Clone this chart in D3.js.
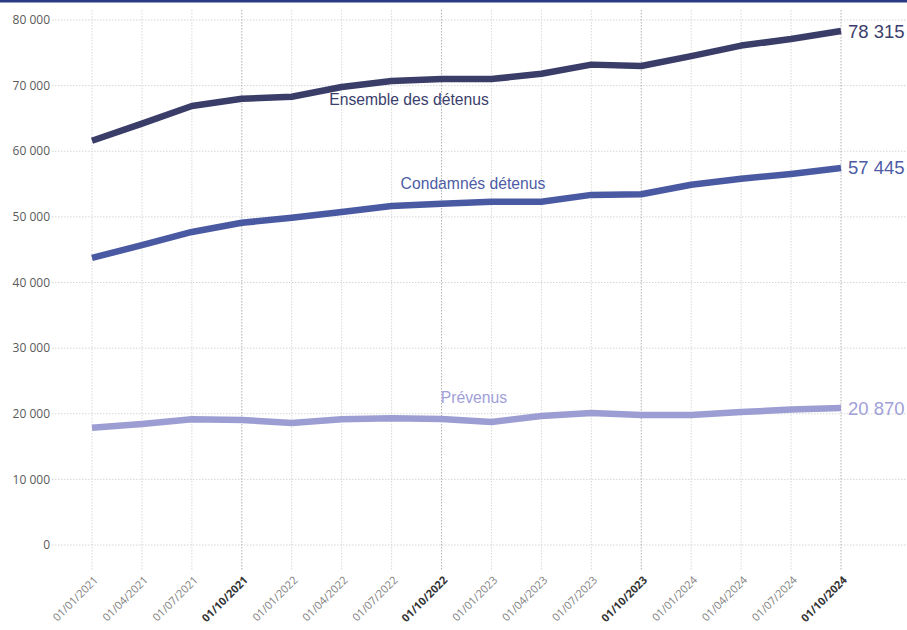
<!DOCTYPE html>
<html><head><meta charset="utf-8">
<script src="https://cdn.jsdelivr.net/npm/d3@7"></script>
<style>body{margin:0;background:#fff;}svg{display:block;}</style>
</head><body>
<svg id="c" width="907" height="630"></svg>
<script>
const dates = ["01/01/2021","01/04/2021","01/07/2021","01/10/2021","01/01/2022","01/04/2022","01/07/2022","01/10/2022","01/01/2023","01/04/2023","01/07/2023","01/10/2023","01/01/2024","01/04/2024","01/07/2024","01/10/2024"];
const ensemble = [61600,64200,66900,68000,68300,69800,70700,71000,71000,71800,73200,73000,74500,76100,77100,78315];
const condamnes = [43750,45700,47700,49100,49850,50750,51650,52000,52300,52300,53350,53450,54900,55800,56550,57445];
const prevenus = [17850,18450,19150,19050,18600,19150,19300,19200,18750,19650,20100,19800,19800,20250,20650,20870];
const yTicks = [0,10000,20000,30000,40000,50000,60000,70000,80000];
const seriesNames = ["Ensemble des détenus","Condamnés détenus","Prévenus"];

const svg = d3.select("#c");
const x = d3.scalePoint().domain(dates).range([92,841]);
const y = d3.scaleLinear().domain([0,80000]).range([545,20]);
const fmt = v => d3.format(",")(v).replace(/,/g," ");

svg.append("rect").attr("x",0).attr("y",0).attr("width",907).attr("height",2.5).attr("fill","#2b3a85");

// horizontal grid
svg.append("g").selectAll("line").data(yTicks).join("line")
  .attr("x1",52).attr("x2",907).attr("y1",d=>y(d)).attr("y2",d=>y(d))
  .attr("stroke","#d6d6d6").attr("stroke-width",1).attr("stroke-dasharray","1.5,1.5");
// vertical grid
svg.append("g").selectAll("line").data(dates).join("line")
  .attr("x1",d=>x(d)).attr("x2",d=>x(d)).attr("y1",10).attr("y2",570)
  .attr("stroke",d=>d.startsWith("01/10")?"#b0b0b0":"#d8d8d8").attr("stroke-width",1).attr("stroke-dasharray","1.5,1.5");

// y labels
svg.append("g").selectAll("text").data(yTicks).join("text")
  .attr("x",50).attr("y",d=>y(d)).attr("dy","0.35em").attr("text-anchor","end")
  .attr("font-family","Open Sans, sans-serif").attr("font-size",12).attr("fill","#5a5a5a")
  .text(d=>fmt(d));

// x labels
svg.append("g").selectAll("text").data(dates).join("text")
  .attr("transform",d=>`translate(${x(d)+4},${578}) rotate(-45)`)
  .attr("text-anchor","end").attr("dy","0.35em")
  .attr("font-family","Open Sans, sans-serif").attr("font-size",11)
  .attr("font-weight",d=>d.startsWith("01/10")?"bold":"normal")
  .attr("fill",d=>d.startsWith("01/10")?"#333":"#808080")
  .text(d=>d);

const series = [
  {name:seriesNames[0], vals:ensemble, color:"#3a3d68", text:"#3b3e6c"},
  {name:seriesNames[1], vals:condamnes, color:"#4a5aa2", text:"#4d5ca5"},
  {name:seriesNames[2], vals:prevenus, color:"#9c9dd2", text:"#9fa0d8"}
];
const line = d3.line().x((d,i)=>x(dates[i])).y(d=>y(d));
series.forEach(s=>{
  svg.append("path").attr("d",line(s.vals)).attr("fill","none")
    .attr("stroke",s.color).attr("stroke-width",6.5).attr("stroke-linejoin","round");
  svg.append("text").attr("x",x(dates[dates.length-1])+7).attr("y",y(s.vals[s.vals.length-1])).attr("dy","0.35em")
    .attr("font-family","Liberation Sans, Arial, sans-serif").attr("font-size",18.5).attr("fill",s.text)
    .text(fmt(s.vals[s.vals.length-1]));
});
// series labels
svg.append("text").attr("x",409).attr("y",y(ensemble[5])+18).attr("text-anchor","middle")
  .attr("font-family","Liberation Sans, Arial, sans-serif").attr("font-size",15.7).attr("fill",series[0].text).text(seriesNames[0]);
svg.append("text").attr("x",473).attr("y",y(condamnes[7])-15).attr("text-anchor","middle")
  .attr("font-family","Liberation Sans, Arial, sans-serif").attr("font-size",15.7).attr("fill",series[1].text).text(seriesNames[1]);
svg.append("text").attr("x",474).attr("y",y(prevenus[7])-16).attr("text-anchor","middle")
  .attr("font-family","Liberation Sans, Arial, sans-serif").attr("font-size",15.7).attr("fill",series[2].text).text(seriesNames[2]);
</script>
</body></html>
